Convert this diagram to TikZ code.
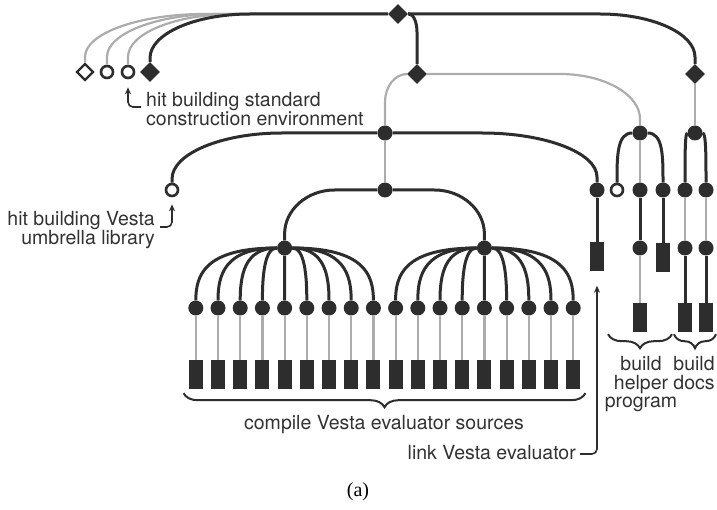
\documentclass[tikz,border=0pt]{standalone}
\usepackage{fontspec}
\setmainfont{TeX Gyre Heros}
\newfontfamily\capfont{Liberation Serif}
\usetikzlibrary{calc,decorations.pathreplacing,arrows.meta,shapes.geometric}
\definecolor{dk}{RGB}{45,45,45}
\definecolor{gr}{RGB}{172,172,172}
\definecolor{tx}{RGB}{50,50,50}
% elbow: style, from, to, dx, dy
\newcommand\elbow[5]{\path[#1] (#2) -- ($(#3|-#2)+(#4,0)$) .. controls ($(#3|-#2)+({0.45*(#4)},0)$) and ($(#3|-#2)+(0,{0.45*(#5)})$) .. ($(#3|-#2)+(0,#5)$) -- (#3);}
% fan: style, hub, leaf, a, b
\newcommand\fan[5]{\path[#1] (#2) .. controls ($(#2)!#4!(#3|-#2)$) and ($(#3)!#5!(#3|-#2)$) .. (#3);}
\begin{document}
\begin{tikzpicture}[x=1pt,y=-1pt,
  dot/.style={circle,fill=dk,inner sep=0,minimum size=15pt},
  odot/.style={circle,draw=dk,line width=2.6pt,fill=white,inner sep=0,minimum size=12pt},
  fdia/.style={diamond,fill=dk,inner sep=0,minimum size=20pt},
  odia/.style={diamond,draw=dk,line width=2.4pt,fill=white,inner sep=0,minimum size=17pt},
  blk/.style={rectangle,fill=dk,inner sep=0,minimum width=14pt,minimum height=29pt},
  dl/.style={draw=dk,line width=3pt},
  gl/.style={draw=gr,line width=2.2pt},
  lbl/.style={text=tx,font=\fontsize{19.5}{18.7}\selectfont,inner sep=0},
  arr/.style={draw=dk,line width=1.6pt,-{Stealth[length=7pt,width=6pt]}},
  brc/.style={draw=dk,line width=2pt,decorate,decoration={brace,mirror,amplitude=14pt}}
]
\useasboundingbox (0,0) rectangle (717,510);
% nodes
\node[fdia] (top) at (398,14) {};
\node[fdia] (dA) at (417,74) {};
\node[fdia] (dB) at (695,74) {};
\node[fdia] (e4) at (150,72) {};
\node[odot] (e3) at (128,72) {};
\node[odot] (e2) at (107,72) {};
\node[odia] (e1) at (85,72) {};
\node[dot] (m) at (385,133) {};
\node[odot] (lib) at (172,190) {};
\node[dot] (c) at (385,190) {};
\node[dot] (lnk) at (597,190) {};
\node[blk] (lnkr) at (597,257) {};
\node[dot] (hL) at (284.6,248) {};
\node[dot] (hR) at (484.4,248) {};
\foreach \i in {0,...,17} {
  \node[dot] (s\i) at ({195.8+22.2*\i},308) {};
  \node[blk] (r\i) at ({195.8+22.2*\i},374.5) {};
}
\node[dot] (p) at (640,133) {};
\node[odot] (p0) at (617,190) {};
\node[dot] (p1) at (640,190) {};
\node[dot] (p2) at (663,190) {};
\node[dot] (p1b) at (640,248) {};
\node[blk] (p1r) at (640,317.5) {};
\node[blk] (p2r) at (663,257.5) {};
\node[dot] (q) at (695,133) {};
\node[dot] (q1) at (685,190) {};
\node[dot] (q2) at (706,190) {};
\node[dot] (q1b) at (685,248) {};
\node[dot] (q2b) at (706,248) {};
\node[blk] (q1r) at (685,317.5) {};
\node[blk] (q2r) at (706,317.5) {};
% gray connectors
\elbow{gl}{top}{e1}{120}{43}
\elbow{gl}{top}{e2}{112}{43}
\elbow{gl}{top}{e3}{106}{43}
\elbow{gl}{dA}{m}{22}{28}
\elbow{gl}{dA}{p}{-80}{45}
\draw[gl] (dB) -- (q);
\draw[gl] (m) -- (c);
\draw[gl] (p) -- (p1);
\draw[gl] (p1b) -- (p1r);
\draw[gl] (q1) -- (q1b);
\draw[gl] (q2) -- (q2b);
\foreach \i in {0,...,17} {\draw[gl] (s\i) -- (r\i);}
% dark connectors
\elbow{dl}{top}{e4}{100}{44}
\elbow{dl}{top}{dA}{-8}{18}
\elbow{dl}{top}{dB}{-95}{43}
\elbow{dl}{m}{lib}{110}{46}
\elbow{dl}{m}{lnk}{-115}{44}
\elbow{dl}{c}{hL}{50}{44}
\elbow{dl}{c}{hR}{-50}{44}
\foreach \i in {0,...,8} {\ifnum\i=4 \draw[dl] (hL) -- (s\i);\else\fan{dl}{hL}{s\i}{0.9}{0.55}\fi}
\foreach \i in {9,...,17} {\ifnum\i=13 \draw[dl] (hR) -- (s\i);\else\fan{dl}{hR}{s\i}{0.9}{0.55}\fi}
\draw[dl] (lnk) -- (lnkr);
\fan{dl}{p}{p0}{1}{0.6}
\fan{dl}{p}{p2}{1}{0.6}
\fan{dl}{q}{q1}{1}{0.6}
\fan{dl}{q}{q2}{1}{0.6}
\draw[dl] (p1) -- (p1b);
\draw[dl] (p2) -- (p2r);
\draw[dl] (q1b) -- (q1r);
\draw[dl] (q2b) -- (q2r);
% braces
\draw[brc] ($(r0.south west)+(-5,4)$) -- ($(r17.south east)+(5,4)$);
\draw[brc] ($(p1r.south)+(-32,2)$) -- ($(p1r.south)+(32,2)$);
\draw[brc] ($(q1r.south)+(-11,2)$) -- ($(q2r.south)+(10,2)$);
% labels
\node[lbl,anchor=north west,align=left] (envlab) at (146,92) {hit building standard\\construction environment};
\node[lbl,anchor=north east,align=right] (umblab) at (155,211) {hit building Vesta\\umbrella library};
\node[lbl,anchor=base] (cmplab) at (384,429) {compile Vesta evaluator sources};
\node[lbl,anchor=base east] (lnklab) at (576,459) {link Vesta evaluator};
\node[lbl,anchor=north,align=center] (hlplab) at (641,356) {build\\helper\\program};
\node[lbl,anchor=north,align=center] (doclab) at (694,356) {build\\docs};
\node[text=black,font=\capfont\fontsize{20}{20}\selectfont,inner sep=0] (cap) at (358,492) {(a)};
% hooks
\coordinate (h1) at ($(envlab.north west)+(-5,15)$);
\coordinate (h2) at ($(umblab.north east)+(5,16)$);
\coordinate (h3) at ($(lnklab.base east)+(4,-5)$);
\draw[arr,rounded corners=5pt,shorten >=8pt] (h1) -| (e3);
\draw[arr,rounded corners=5pt,shorten >=7pt] (h2) -| (lib);
\draw[arr,rounded corners=5pt,shorten >=14pt] (h3) -| (lnkr);
\end{tikzpicture}
\end{document}
